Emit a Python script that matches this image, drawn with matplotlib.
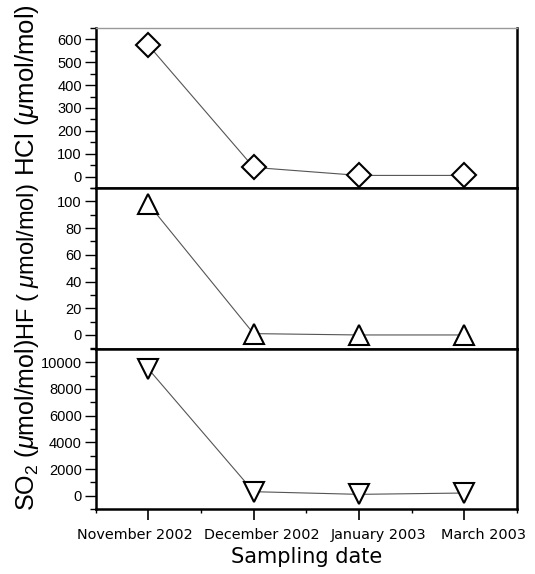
import matplotlib.pyplot as plt
from matplotlib.ticker import MultipleLocator
from matplotlib.transforms import ScaledTranslation

plt.rcParams["font.family"] = ["Liberation Sans", "DejaVu Sans"]
plt.rcParams["mathtext.fontset"] = "custom"
plt.rcParams["mathtext.it"] = "Liberation Sans:italic"
plt.rcParams["mathtext.rm"] = "Liberation Sans"

# --- Data ---
dates = ["November 2002", "December 2002", "January 2003", "March 2003"]
hcl = [575, 40, 5, 5]
hf = [98, 1, 0, 0]
so2 = [9500, 300, 100, 200]

x = list(range(len(dates)))

fig = plt.figure(figsize=(5.35, 5.74), dpi=100)
left, width = 0.179, 0.787
ax_hcl = fig.add_axes([left, 0.6725, width, 0.2787])
ax_hf = fig.add_axes([left, 0.392, width, 0.2805])
ax_so2 = fig.add_axes([left, 0.1132, width, 0.2788])

# axis, values, marker, size, ylim, major, minor, label, label size, label y
panels = [
    (ax_hcl, hcl, "D", 12, (-50, 650), 100, 50, r"HCl ($\mu$mol/mol)", 18.5, 0.61),
    (ax_hf, hf, "^", 15, (-10.5, 110), 20, 10, r"HF ( $\mu$mol/mol)", 17, 0.54),
    (ax_so2, so2, "v", 15, (-1000, 11000), 2000, 1000,
     r"SO$_2$ ($\mu$mol/mol)", 18, 0.525),
]

for ax, vals, mk, ms, ylim, major, minor, label, lsize, ly in panels:
    ax.plot(x, vals, color="#555555", lw=0.8, zorder=1)
    ax.plot(x, vals, ls="none", marker=mk, ms=ms, mfc="white", mec="black",
            mew=1.5, zorder=2)
    ax.set_xlim(-0.5, 3.5)
    ax.set_ylim(*ylim)
    ax.yaxis.set_major_locator(MultipleLocator(major))
    ax.yaxis.set_minor_locator(MultipleLocator(minor))
    ax.tick_params(axis="y", which="major", direction="out", length=8, width=1,
                   labelsize=10.5, pad=2)
    ax.tick_params(axis="y", which="minor", direction="out", length=4, width=1)
    ax.set_ylabel(label, fontsize=lsize)
    ax.yaxis.set_label_coords(-0.129, ly)
    for s in ("left", "bottom", "right", "top"):
        ax.spines[s].set_linewidth(1.8)
        ax.spines[s].set_color("black")
    ax.set_xticks(x)
    ax.xaxis.set_minor_locator(MultipleLocator(0.5))

ax_hcl.spines["top"].set_linewidth(1.0)
ax_hcl.spines["top"].set_color("#999999")

for ax in (ax_hcl, ax_hf):
    ax.tick_params(axis="x", which="both", length=0, labelbottom=False)

ax_so2.set_xticklabels(dates, fontfamily="DejaVu Sans")
ax_so2.tick_params(axis="x", which="major", direction="out", length=8, width=1.2,
                   labelsize=10.4, pad=6)
ax_so2.tick_params(axis="x", which="minor", direction="out", length=3, width=1)
# the original labels sit slightly spread out from their ticks
shifts = [-14, 8, 20, 19]
for lab, dx in zip(ax_so2.get_xticklabels(), shifts):
    lab.set_transform(lab.get_transform() + ScaledTranslation(dx / 100, 0, fig.dpi_scale_trans))
ax_so2.set_xlabel("Sampling date", fontsize=15, fontfamily="DejaVu Sans", labelpad=3)

fig.savefig("out.png", dpi=100)
